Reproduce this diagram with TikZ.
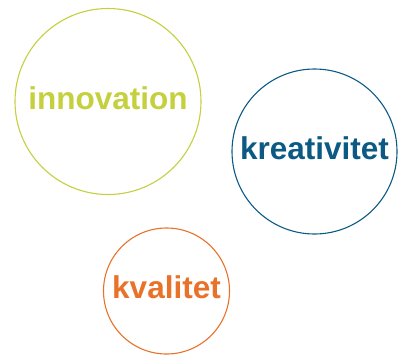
\documentclass[tikz,border=0pt]{standalone}
\usepackage{fontspec}
\setmainfont{Liberation Sans}
\usepackage{tikz}

\definecolor{lime}{RGB}{196,208,62}
\definecolor{petrol}{RGB}{12,90,132}
\definecolor{rust}{RGB}{232,114,42}

\begin{document}
\begin{tikzpicture}[
    x=1pt, y=-1pt,
    every node/.style={font=\fontsize{31.5}{36}\selectfont\bfseries},
    ring/.style={circle, draw, line width=1.1pt, inner sep=0pt,
                 text height=22pt, text depth=7pt},
  ]
  \useasboundingbox (0,0) rectangle (403,356);
  \node[ring, draw=lime, text=lime, minimum size=186pt] (innov) at (108.0, 101.5) {innovation};
  \node[ring, draw=petrol, text=petrol, minimum size=165pt] (kreat) at (314.5, 151.5) {kreativitet};
  \node[ring, draw=rust, text=rust, minimum size=126pt] (kval) at (166.5, 291.0) {kvalitet};
\end{tikzpicture}
\end{document}
